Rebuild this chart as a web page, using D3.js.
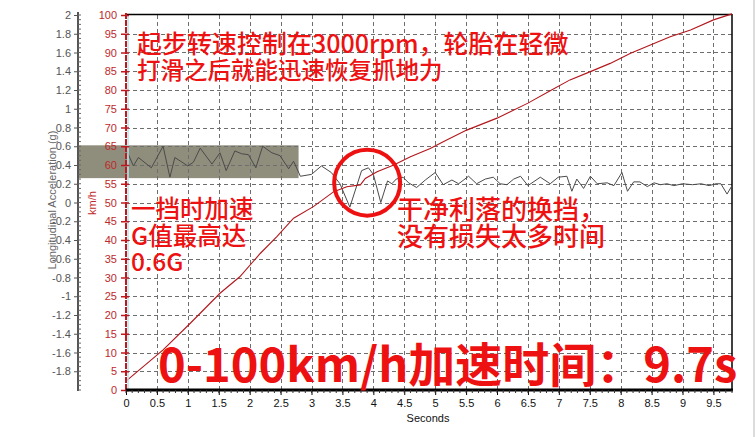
<!DOCTYPE html>
<html><head><meta charset="utf-8">
<script src="https://cdn.jsdelivr.net/npm/d3@7"></script>
<style>
html,body{margin:0;padding:0;background:#fff;}
svg{display:block;}
</style></head>
<body>
<svg id="c" width="756" height="437"></svg>
<script>
// ---- data ----
const speedTimes = [0.01,0.6,1.04,1.52,1.84,2.17,2.44,2.71,3.03,3.36,3.57,3.79,3.87,4.06,4.33,4.6,4.92,5.13,5.51,6.0,6.5,6.86,7.18,7.51,7.83,8.16,8.48,8.8,9.13,9.5,9.8];
const speedKmh   = [2.5,10.7,17.8,25.8,30.2,36.4,40.9,45.8,48.9,52.9,54.2,54.7,56.4,58.2,60,62.2,64.4,66.2,69.3,72.5,76.5,79.8,82.7,84.9,87.1,89.8,92,94.2,96,98.7,100.3];
const accelTimes = [0,0.12,0.2,0.41,0.6,0.71,0.79,1.0,1.09,1.2,1.39,1.52,1.62,1.76,1.87,1.98,2.1,2.21,2.36,2.49,2.63,2.71,2.82,3.0,3.16,3.32,3.46,3.62,3.81,3.92,4.0,4.12,4.23,4.3,4.37,4.48,4.57,4.7,4.84,5.0,5.13,5.27,5.38,5.54,5.67,5.81,5.94,6.05,6.16,6.27,6.38,6.5,6.7,6.86,6.99,7.13,7.21,7.29,7.4,7.51,7.62,7.78,7.89,8.02,8.11,8.21,8.31,8.43,8.54,8.64,8.75,8.86,9.0,9.16,9.3,9.43,9.54,9.62,9.72,9.8];
const accelG     = [0.57,0.39,0.48,0.37,0.60,0.27,0.48,0.39,0.43,0.58,0.41,0.53,0.34,0.55,0.52,0.51,0.37,0.60,0.53,0.50,0.36,0.44,0.28,0.30,0.39,0.32,0.20,-0.05,0.34,0.37,0.30,0.0,0.23,0.20,0.25,0.27,0.21,0.16,0.24,0.32,0.19,0.24,0.20,0.28,0.20,0.25,0.27,0.20,0.19,0.25,0.28,0.18,0.27,0.20,0.27,0.28,0.12,0.25,0.15,0.28,0.20,0.21,0.18,0.32,0.12,0.22,0.22,0.17,0.21,0.19,0.20,0.18,0.20,0.19,0.20,0.18,0.20,0.20,0.09,0.18];
const gTicks     = [2,1.8,1.6,1.4,1.2,1,0.8,0.6,0.4,0.2,0,-0.2,-0.4,-0.6,-0.8,-1,-1.2,-1.4,-1.6,-1.8];
const speedTicks = [0,5,10,15,20,25,30,35,40,45,50,55,60,65,70,75,80,85,90,95,100];
const timeTicks  = [0,0.5,1,1.5,2,2.5,3,3.5,4,4.5,5,5.5,6,6.5,7,7.5,8,8.5,9,9.5];
const noteTop    = ["起步转速控制在3000rpm，轮胎在轻微","打滑之后就能迅速恢复抓地力"];
const noteLeft   = ["一挡时加速","G值最高达","0.6G"];
const noteRight  = ["干净利落的换挡，","没有损失太多时间"];
const bigNote    = "0-100km/h加速时间：9.7s";
const highlightG = [0.26, 0.61];
const highlightT = 2.71;

// ---- layout ----
const svg = d3.select("#c");
const L = 126, R = 732, T = 15, B = 390, GX = 78;
const x = d3.scaleLinear().domain([0, 9.8]).range([L, R]);
const yS = d3.scaleLinear().domain([0, 100]).range([B, T]);
const yG = d3.scaleLinear().domain([-2, 2]).range([B, T]);
const RED = "#ee1111";
const SANS = "Liberation Sans, Arial, sans-serif";

// outer frame (light)
svg.append("line").attr("x1",754).attr("x2",754).attr("y1",0).attr("y2",437).attr("stroke","#d0d0d0").attr("stroke-width",1.5);

// highlight box
svg.append("rect").attr("x",GX).attr("y",yG(highlightG[1])).attr("width",x(highlightT)+5-GX)
  .attr("height",yG(highlightG[0])-yG(highlightG[1])).attr("fill","#858371").attr("opacity",0.92);

// grid
const grid = svg.append("g").attr("stroke","#6e6e6e").attr("stroke-dasharray","4,3").attr("stroke-width",1);
speedTicks.filter(v=>v>0&&v<100).forEach(v=>{
  grid.append("line").attr("x1",L).attr("x2",R).attr("y1",Math.round(yS(v))+0.5).attr("y2",Math.round(yS(v))+0.5);
});
timeTicks.filter(v=>v>0).forEach(v=>{
  grid.append("line").attr("y1",T).attr("y2",B).attr("x1",Math.round(x(v))+0.5).attr("x2",Math.round(x(v))+0.5);
});

// plot border top/right
svg.append("line").attr("x1",L).attr("x2",R).attr("y1",T-0.5).attr("y2",T-0.5).attr("stroke","#000").attr("stroke-width",1.5);
svg.append("line").attr("x1",R).attr("x2",R).attr("y1",T-1).attr("y2",B).attr("stroke","#000").attr("stroke-width",1.5);

// lines
svg.append("path").datum(accelTimes.map((t,i)=>[t,accelG[i]]))
  .attr("d", d3.line().x(d=>x(d[0])).y(d=>yG(d[1])))
  .attr("fill","none").attr("stroke","#4a4a4a").attr("stroke-width",1);
svg.append("path").datum(speedTimes.map((t,i)=>[t,speedKmh[i]]))
  .attr("d", d3.line().x(d=>x(d[0])).y(d=>yS(d[1])))
  .attr("fill","none").attr("stroke","#b3161c").attr("stroke-width",1.1);

// g axis
const gAxis = svg.append("g").attr("transform",`translate(${GX},0)`);
gAxis.call(d3.axisLeft(yG).tickValues(gTicks).tickSize(4).tickFormat(d=>String(+d.toFixed(1))));
gAxis.selectAll(".domain").remove();
gAxis.append("line").attr("y1",T-3).attr("y2",B+1).attr("stroke","#555").attr("stroke-width",2);
gAxis.selectAll(".tick line").attr("stroke","#555");
gAxis.selectAll(".tick text").attr("fill","#555").style("font-family",SANS).style("font-size","11px");
d3.range(-2,2.001,0.05).forEach(v=>{
  gAxis.append("line").attr("x1",0).attr("x2",3).attr("y1",yG(v)).attr("y2",yG(v)).attr("stroke","#666").attr("stroke-width",1);
});

// speed axis
const sAxis = svg.append("g").attr("transform",`translate(${L},0)`);
sAxis.append("line").attr("x1",2).attr("x2",2).attr("y1",T).attr("y2",B).attr("stroke","#a8eaf0").attr("stroke-width",1.5);
sAxis.call(d3.axisLeft(yS).tickValues(speedTicks).tickSize(5));
sAxis.selectAll(".domain").remove();
sAxis.append("line").attr("y1",T-2).attr("y2",B).attr("stroke","#c0181e").attr("stroke-width",2).attr("stroke-dasharray","6,1");
sAxis.selectAll(".tick line").attr("stroke","#c0181e").attr("x2",-5).attr("x1",3).attr("stroke-width",1.5);
sAxis.selectAll(".tick text").attr("fill","#c0292b").attr("x",-9).style("font-family",SANS).style("font-size","11px");

// time axis
const tAxis = svg.append("g").attr("transform",`translate(0,${B})`);
tAxis.call(d3.axisBottom(x).tickValues(timeTicks).tickSize(5).tickFormat(d=>String(d)));
tAxis.selectAll(".domain").remove();
tAxis.append("line").attr("x1",L).attr("x2",R+1).attr("y1",0).attr("y2",0).attr("stroke","#000").attr("stroke-width",3);
tAxis.selectAll(".tick line").attr("stroke","#000");
tAxis.selectAll(".tick text").attr("fill","#111").attr("y",9).style("font-family",SANS).style("font-size","11px");
d3.range(0,9.81,0.1).forEach(v=>{
  tAxis.append("line").attr("x1",x(v)).attr("x2",x(v)).attr("y1",0).attr("y2",3).attr("stroke","#333");
});

// axis titles
svg.append("text").attr("transform","translate(56,200) rotate(-90)").attr("text-anchor","middle")
  .attr("fill","#666").style("font-family",SANS).style("font-size","11px").text("Longitudinal Acceleration (g)");
svg.append("text").attr("transform","translate(96,203) rotate(-90)").attr("text-anchor","middle")
  .attr("fill","#c0292b").style("font-family",SANS).style("font-size","11px").text("km/h");
svg.append("text").attr("x",428).attr("y",422).attr("text-anchor","middle")
  .attr("fill","#111").style("font-family",SANS).style("font-size","11px").text("Seconds");

// annotations (one text per block, lines as tspans)
const cjk = "'Noto Sans CJK SC', 'Noto Sans', sans-serif";
function block(lines, x0, y0, dy, sizes) {
  const t = svg.append("text").attr("x",x0).attr("y",y0).attr("fill",RED)
    .style("font-family",cjk).style("font-weight",500);
  lines.forEach((s,i)=>{
    t.append("tspan").attr("x",x0).attr("dy",i===0?0:dy).style("font-size",(sizes[i]||sizes[0])+"px").text(s);
  });
}
block(noteTop, 137, 53, 26, [25, 23.5]);
block(noteLeft, 131, 218, 26.5, [24.5]);
block(noteRight, 397, 219, 27, [26]);

svg.append("text").attr("x",158).attr("y",382).attr("fill",RED)
  .style("font-family",cjk).style("font-size","47px").style("font-weight",700).text(bigNote);

// circle
svg.append("circle").attr("cx",x(3.9)).attr("cy",yS(55.3)).attr("r",33)
  .attr("fill","none").attr("stroke",RED).attr("stroke-width",4);
</script>
</body></html>
